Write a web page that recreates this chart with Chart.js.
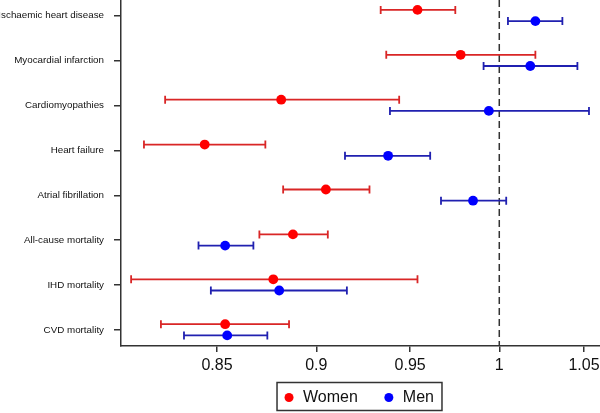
<!DOCTYPE html>
<html>
<head>
<meta charset="utf-8">
<title>Forest plot</title>
<script src="https://cdn.jsdelivr.net/npm/chart.js@4"></script>
<style>
  body { margin: 0; background: #fff; }
  #wrap { width: 600px; height: 413px; }
</style>
</head>
<body>
<div id="wrap"><canvas id="chart" width="600" height="413"></canvas></div>
<script>
// forest plot - hazard ratios by outcome, women vs men

const categories = [
  'Ischaemic heart disease',
  'Myocardial infarction',
  'Cardiomyopathies',
  'Heart failure',
  'Atrial fibrillation',
  'All-cause mortality',
  'IHD mortality',
  'CVD mortality'
];

const womenEst  = [0.954, 0.978, 0.882, 0.844, 0.905, 0.888, 0.878, 0.854];
const womenLow  = [0.934, 0.937, 0.825, 0.815, 0.883, 0.871, 0.809, 0.823];
const womenHigh = [0.975, 1.021, 0.944, 0.874, 0.928, 0.906, 0.954, 0.886];

const menEst  = [1.021, 1.018, 0.994, 0.938, 0.985, 0.854, 0.881, 0.855];
const menLow  = [1.005, 0.991, 0.939, 0.915, 0.967, 0.841, 0.847, 0.834];
const menHigh = [1.037, 1.046, 1.053, 0.961, 1.004, 0.868, 0.916, 0.875];

const xTicks = [0.85, 0.9, 0.95, 1, 1.05];
const refValue = 1;

const FONT = '"Liberation Sans", Arial, Helvetica, sans-serif';
const AXIS_COLOR = '#333';
const WOMEN_OFFSET = -0.13;
const MEN_OFFSET = 0.12;

const groups = [
  { label: 'Women', est: womenEst, low: womenLow, high: womenHigh, offset: WOMEN_OFFSET, dot: '#ff0000', bar: '#d92626' },
  { label: 'Men', est: menEst, low: menLow, high: menHigh, offset: MEN_OFFSET, dot: '#0000ff', bar: '#2020b0' }
];

// dashed line at 1 + whiskers with caps, drawn under the points
const errorBars = {
  id: 'errorBars',
  beforeDatasetsDraw(chart) {
    const { ctx, chartArea, scales: { x, y } } = chart;
    ctx.save();

    const rx = x.getPixelForValue(refValue);
    ctx.strokeStyle = AXIS_COLOR;
    ctx.lineWidth = 1.5;
    ctx.setLineDash([7, 4]);
    ctx.beginPath();
    ctx.moveTo(rx, chartArea.top);
    ctx.lineTo(rx, chartArea.bottom);
    ctx.stroke();
    ctx.setLineDash([]);

    const cap = 4;
    groups.forEach(g => {
      ctx.strokeStyle = g.bar;
      ctx.lineWidth = 1.8;
      categories.forEach((c, i) => {
        const py = y.getPixelForValue(i + g.offset);
        const x1 = x.getPixelForValue(g.low[i]);
        const x2 = x.getPixelForValue(g.high[i]);
        ctx.beginPath();
        ctx.moveTo(x1, py);
        ctx.lineTo(x2, py);
        ctx.moveTo(x1, py - cap);
        ctx.lineTo(x1, py + cap);
        ctx.moveTo(x2, py - cap);
        ctx.lineTo(x2, py + cap);
        ctx.stroke();
      });
    });
    ctx.restore();
  }
};

// boxed legend centred under the plot area
const boxLegend = {
  id: 'boxLegend',
  afterDraw(chart) {
    const { ctx, chartArea } = chart;
    ctx.save();
    ctx.font = '16px ' + FONT;
    const padL = 12, dotGap = 14, itemGap = 31, padR = 8;
    const widths = groups.map(g => ctx.measureText(g.label).width);
    let total = padL + padR;
    widths.forEach((w, i) => { total += dotGap + w + (i < widths.length - 1 ? itemGap : 0); });
    const left = (chartArea.left + chartArea.right) / 2 - total / 2 - 1;
    const top = 382.5, h = 28;
    const cy = top + h / 2 + 1;

    ctx.strokeStyle = AXIS_COLOR;
    ctx.lineWidth = 1.5;
    ctx.strokeRect(left, top, total, h);

    let cx = left + padL;
    groups.forEach((g, i) => {
      ctx.fillStyle = g.dot;
      ctx.beginPath();
      ctx.arc(cx, cy, 4.5, 0, Math.PI * 2);
      ctx.fill();
      ctx.fillStyle = '#111';
      ctx.textBaseline = 'middle';
      ctx.textAlign = 'left';
      ctx.fillText(g.label, cx + dotGap, cy);
      cx += dotGap + widths[i] + itemGap;
    });
    ctx.restore();
  }
};

function initChart() {
  const ctx = document.getElementById('chart').getContext('2d');
  new Chart(ctx, {
    type: 'scatter',
    data: {
      datasets: groups.map(g => ({
        label: g.label,
        data: g.est.map((v, i) => ({ x: v, y: i + g.offset })),
        backgroundColor: g.dot,
        borderWidth: 0,
        pointRadius: 4.9,
        clip: false
      }))
    },
    options: {
      responsive: false,
      animation: false,
      layout: { padding: 0, autoPadding: false },
      plugins: {
        legend: { display: false },
        tooltip: { enabled: false }
      },
      scales: {
        x: {
          type: 'logarithmic',
          bounds: 'data',
          min: 0.8043,
          max: 1.0597,
          afterBuildTicks(scale) {
            scale.ticks = xTicks.map(v => ({ value: v }));
          },
          afterFit(scale) {
            scale.height = 67;
            scale.paddingLeft = 0;
            scale.paddingRight = 0;
          },
          ticks: {
            callback: v => String(v),
            color: '#111',
            font: { family: FONT, size: 16 },
            padding: 4,
            maxRotation: 0,
            autoSkip: false
          },
          grid: {
            drawOnChartArea: false,
            drawTicks: true,
            tickLength: 6,
            color: AXIS_COLOR,
            lineWidth: 1.5
          },
          border: { display: true, color: AXIS_COLOR, width: 1.5 }
        },
        y: {
          type: 'linear',
          reverse: true,
          min: -0.35,
          max: 7.356,
          afterBuildTicks(scale) {
            scale.ticks = categories.map((c, i) => ({ value: i }));
          },
          afterFit(scale) {
            scale.width = 121;
            scale.paddingTop = 0;
            scale.paddingBottom = 0;
          },
          ticks: {
            callback: v => categories[v],
            color: '#111',
            font: { family: FONT, size: 9.8 },
            padding: 10,
            autoSkip: false
          },
          grid: {
            drawOnChartArea: false,
            drawTicks: true,
            tickLength: 7,
            color: AXIS_COLOR,
            lineWidth: 1.5
          },
          border: { display: true, color: AXIS_COLOR, width: 1.5 }
        }
      }
    },
    plugins: [errorBars, boxLegend]
  });
}

initChart();
</script>
</body>
</html>
